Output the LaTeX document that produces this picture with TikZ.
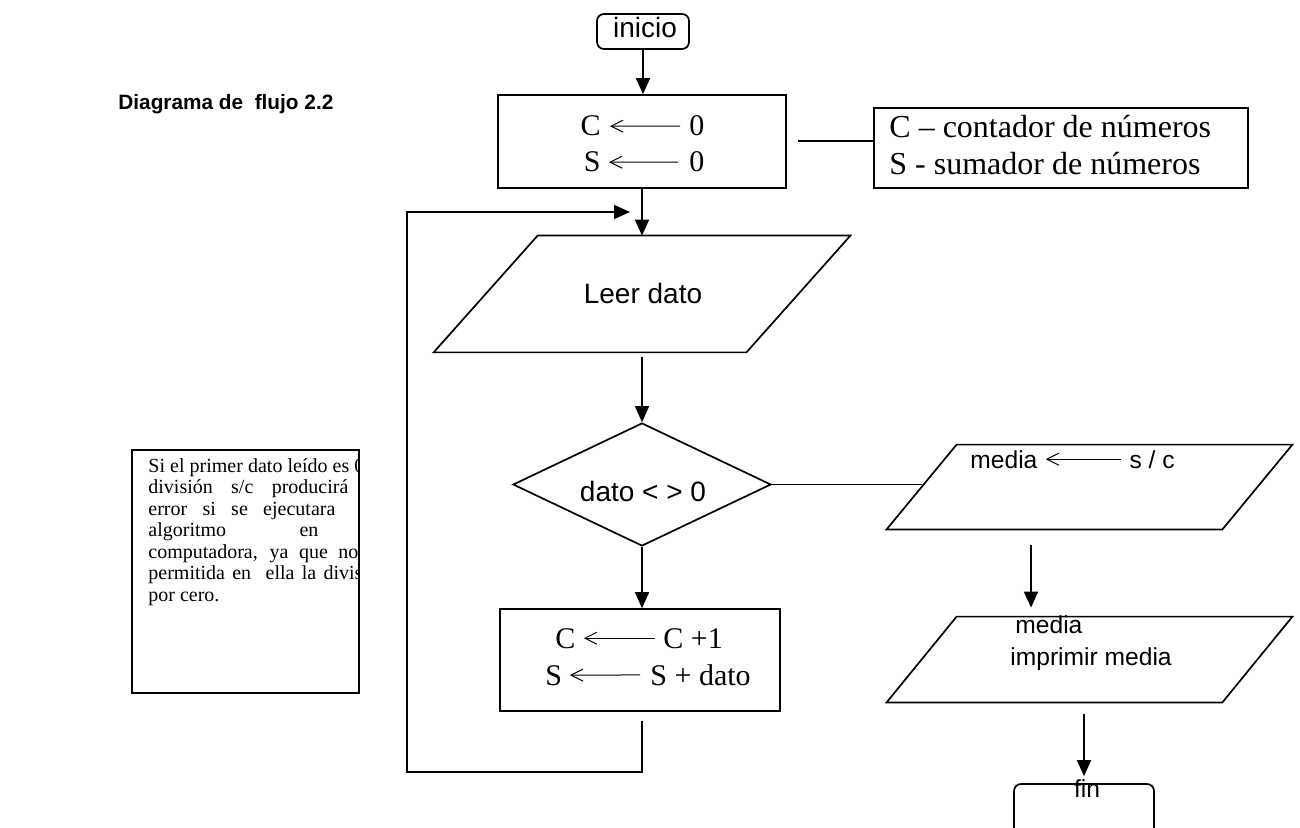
\documentclass[tikz,border=0pt]{standalone}
\usepackage{fontspec}
\setmainfont{Liberation Serif}
\newfontfamily\arialf{Liberation Sans}
\usetikzlibrary{arrows.meta,shapes.geometric,calc}

\tikzset{
  shp/.style={draw, line width=0.85pt},
  boxn/.style={shp, rectangle, inner sep=0pt},
  term/.style={shp, rectangle, rounded corners=3.5pt, inner sep=0pt},
  ghost/.style={rectangle, inner sep=0pt},
  decision/.style={shp, diamond, inner sep=0pt},
  flow/.style={line width=0.85pt, -{Triangle[length=8pt,width=7pt]}},
  wire/.style={line width=0.85pt},
  assign/.style={line width=0.5pt, {Straight Barb[length=6pt,width=6pt,line width=0.5pt]}-},
  tms/.style={inner sep=0pt, font=\fontsize{15}{18}\selectfont},
  tmsnote/.style={inner sep=0pt, font=\fontsize{16}{19}\selectfont},
  ars/.style={inner sep=0pt, font=\arialf\fontsize{14}{16}\selectfont},
  arsio/.style={inner sep=0pt, font=\arialf\fontsize{12.3}{14}\selectfont},
  remarkfont/.style={anchor=base west, inner sep=0pt, font=\fontsize{10}{11}\selectfont},
}

% slanted input/output box drawn around a (hidden) rectangular body node
\newcommand\ioshape[2]{%
  \draw[shp] ([xshift=#2]#1.north west) -- ([xshift=#2]#1.north east)
    -- ([xshift=-#2]#1.south east) -- ([xshift=-#2]#1.south west) -- cycle;}

\begin{document}
\begin{tikzpicture}[x=0.5pt,y=-0.5pt]
\clip (0,0) rectangle (1300,828);

% heading
\node[anchor=base west, inner sep=0pt, font=\arialf\bfseries\fontsize{10.4}{12}\selectfont]
  (title) at (118,110) {Diagrama de\ \ flujo 2.2};

% start
\node[term, minimum width=46pt, minimum height=17.5pt] (inicio) at (643,31.5) {};
\node[ars, anchor=base] (tinicio) at (645,38) {inicio};

% initialisation
\node[boxn, minimum width=144pt, minimum height=46.5pt] (init) at (642,141.5) {};
\node[tms, anchor=base east] (c1) at (601,136) {C};
\node[tms, anchor=base west] (c1v) at (689,136) {0};
\draw[assign, shorten <=4.5pt, shorten >=4.5pt] (c1) -- (c1v);
\node[tms, anchor=base east] (s1) at (601,172) {S};
\node[tms, anchor=base west] (s1v) at (689,172) {0};
\draw[assign, shorten <=4pt, shorten >=5.5pt] (s1) -- (s1v);

% note on the variables
\node[boxn, minimum width=187pt, minimum height=40pt] (note) at (1061,148) {};
\node[tmsnote, anchor=base west] (n1) at (889,138) {C – contador de números};
\node[tmsnote, anchor=base west] (n2) at (889,175) {S - sumador de números};
\coordinate (nfrom) at (798,141);
\draw[wire] (nfrom) -- (nfrom -| note.west);

% read
\node[ghost, minimum width=156pt, minimum height=58pt] (leer) at (642,294) {};
\ioshape{leer}{26pt}
\node[ars, anchor=base] (tleer) at (643,304) {Leer dato};

% decision
\node[decision, minimum width=129pt, minimum height=61.5pt] (cond) at (642,484.5) {};
\node[ars, anchor=base] (tcond) at (643,501) {dato < > 0};

% accumulate
\node[boxn, minimum width=140pt, minimum height=51pt] (acc) at (640,660) {};
\node[tms, anchor=base west] (c2) at (555,648) {C};
\node[tms, anchor=base west] (c2v) at (663,648) {C +1};
\draw[assign, shorten <=4pt, shorten >=4pt] (c2) -- (c2v);
\node[tms, anchor=base west] (s2) at (545,685) {S};
\node[tms, anchor=base west] (s2v) at (650,685) {S + dato};
\draw[assign, shorten <=3.7pt, shorten >=5pt] (s2) -- (s2v);

% mean
\node[ghost, minimum width=167.5pt, minimum height=42pt] (mean) at (1089.5,487) {};
\ioshape{mean}{17.5pt}
\node[arsio, anchor=base west] (m1) at (970,468) {media};
\node[arsio, anchor=base east] (m1v) at (1175,468) {s / c};
\draw[assign, shorten <=4pt, shorten >=4pt] (m1) -- (m1v);

% print
\node[ghost, minimum width=167.5pt, minimum height=42.5pt] (out) at (1089.5,659.5) {};
\ioshape{out}{17.5pt}
\node[arsio, anchor=base west] (o1) at (1015,633) {media};
\node[arsio, anchor=base west] (o2) at (1010,665) {imprimir media};

% end
\node[term, minimum width=70pt, minimum height=35pt] (fin) at (1084,819) {};
\node[arsio, anchor=base] (tfin) at (1087,797) {fin};

% remark on division by zero
\node[boxn, minimum width=113.5pt, minimum height=121.5pt] (remark) at (245.5,571.5) {};
\begin{scope}
  \clip (remark.south west) rectangle (remark.north east);
  \node[remarkfont] (r1) at (148,472) {\makebox[108pt][s]{Si el primer dato leído es 0}};
  \node[remarkfont] (r2) at (148,493) {\makebox[100pt][s]{división s/c producirá}};
  \node[remarkfont] (r3) at (148,515) {\makebox[93.5pt][s]{error si se ejecutara}};
  \node[remarkfont] (r4) at (148,536) {\makebox[85pt][s]{algoritmo en}};
  \node[remarkfont] (r5) at (148,558) {\makebox[105pt][s]{computadora, ya que no}};
  \node[remarkfont] (r6) at (148,579) {\makebox[107pt][s]{permitida en\ \ ella la divis}};
  \node[remarkfont] (r7) at (148,601) {por cero.};
\end{scope}

% connectors
\draw[flow] (inicio) -- (inicio |- init.north);
\draw[flow] (init) -- (leer);
\draw[flow, shorten <=2.5pt] (leer) -- (cond);
\draw[flow] (cond) -- (cond |- acc.north);
\draw[wire] (cond.east) -- (cond.east -| mean.west);
\coordinate (m1out) at (1031,545);
\draw[flow, shorten >=4.5pt] (m1out) -- (m1out |- out.north);
\coordinate (m2out) at (1084,714);
\draw[flow, shorten >=3.5pt] (m2out) -- (m2out |- fin.north);
\coordinate (lbl) at (407,772);
\coordinate (ltl) at (407,212);
\coordinate (lend) at (630,212);
\draw[flow] ([yshift=-4.5pt]acc.south -| cond.south) |- (lbl) -- (ltl) -- (lend);
\end{tikzpicture}
\end{document}
